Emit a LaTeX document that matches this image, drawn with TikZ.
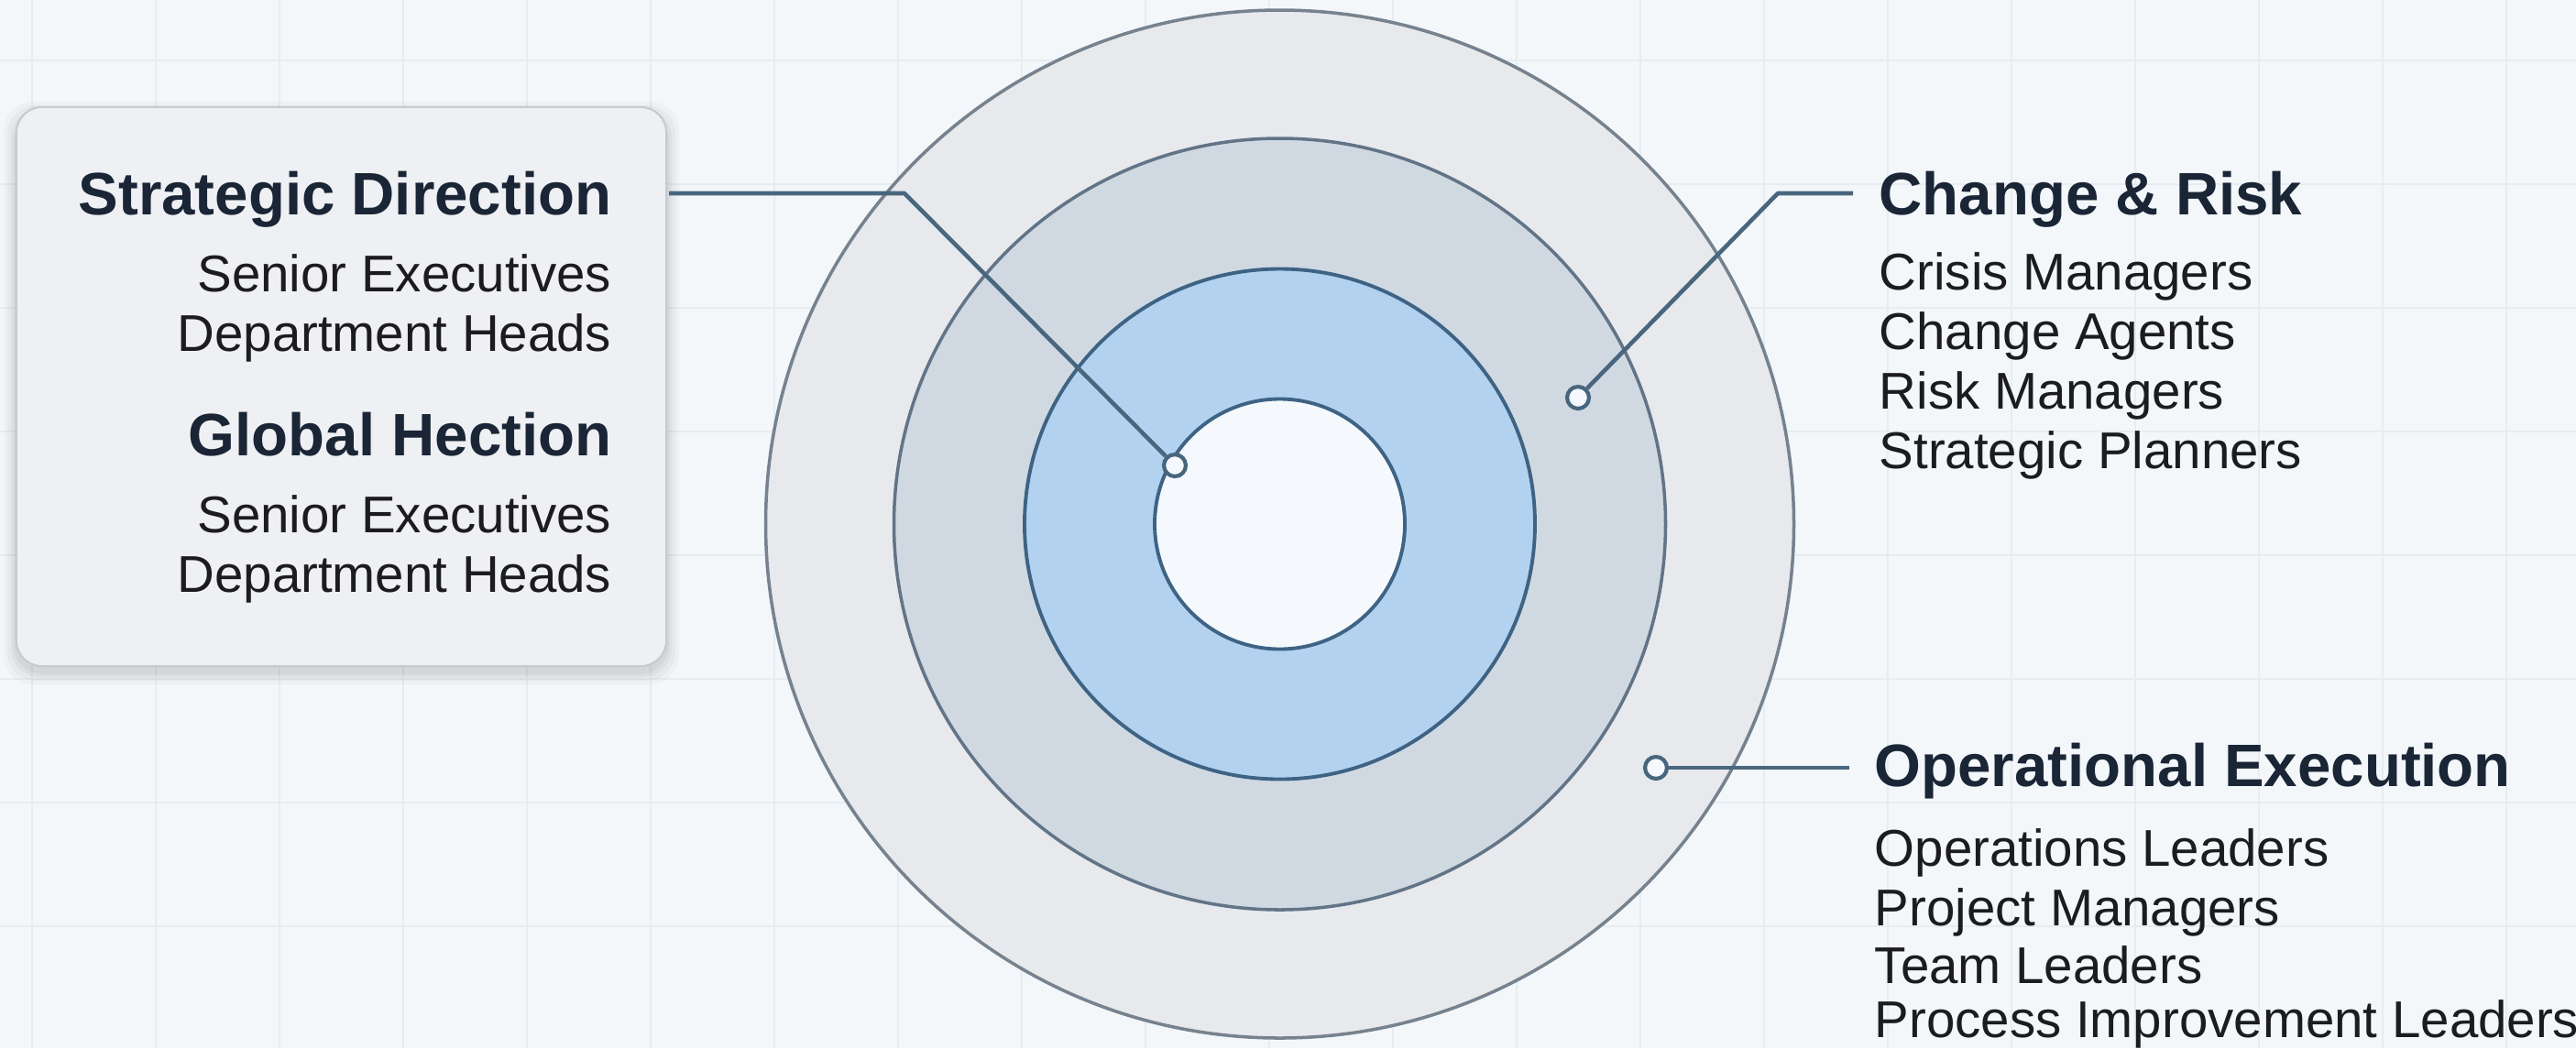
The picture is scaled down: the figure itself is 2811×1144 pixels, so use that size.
\documentclass[tikz,border=0pt]{standalone}
\usepackage{fontspec}
\setmainfont{Liberation Sans}
\definecolor{bgc}{HTML}{F3F7FA}
\definecolor{gridc}{HTML}{E7ECF1}
\definecolor{ringA}{HTML}{E7E9EC}
\definecolor{ringB}{HTML}{D0D9E1}
\definecolor{ringC}{HTML}{B3D2EF}
\definecolor{ringD}{HTML}{F5F9FD}
\definecolor{strokeA}{HTML}{76828E}
\definecolor{strokeB}{HTML}{627487}
\definecolor{strokeC}{HTML}{3E6384}
\definecolor{connc}{HTML}{48667E}
\definecolor{boxfill}{HTML}{EEF0F3}
\definecolor{boxdraw}{HTML}{C6CBD1}
\definecolor{titlec}{HTML}{1A2536}
\definecolor{textc}{HTML}{1C1C1E}
\begin{document}
\begin{tikzpicture}[x=0.01cm,y=-0.01cm,
  gridline/.style={draw=gridc,line width=0.4pt},
  ring/.style={line width=1.0pt},
  conn/.style={draw=connc,line width=1.3pt,line join=round},
  dotnode/.style={circle,draw=connc,line width=1.2pt,fill=ringD,minimum size=6.8pt,inner sep=0pt},
  panel/.style={rectangle,rounded corners=8pt,draw=boxdraw,line width=0.6pt,fill=boxfill,minimum width=7.09cm,minimum height=6.10cm,inner sep=0pt},
  ttl/.style={inner sep=0pt,text=titlec,font=\fontsize{18.6}{22}\selectfont\bfseries},
  itm/.style={inner sep=0pt,text=textc,font=\fontsize{16.05}{19}\selectfont}
]
\useasboundingbox (0,0) rectangle (2811,1144);
\fill[bgc] (0,0) rectangle (2811,1144);
% faint grid
\foreach \gx in {35,170,305,440,575,710,845,980,1115,1250,1385,1520,1655,1790,1925,2060,2195,2330,2465,2600,2735}
  \draw[gridline] (\gx,0) -- (\gx,1144);
\foreach \gy in {66,201,336,471,606,741,876,1011}
  \draw[gridline] (0,\gy) -- (2811,\gy);

% concentric rings
\coordinate (C) at (1396.5,572);
\path[ring,fill=ringA,draw=strokeA] (C) circle[radius=561];
\path[ring,fill=ringB,draw=strokeB] (C) circle[radius=421];
\path[ring,fill=ringC,draw=strokeC,line width=1.1pt] (C) circle[radius=278.5];
\path[ring,fill=ringD,draw=strokeC,line width=1.1pt] (C) circle[radius=136.5];

% left panel with soft shadow
\foreach \k/\op in {14/0.025,10/0.03,6/0.035,3/0.04}
  \fill[black,opacity=\op,rounded corners=9pt] (18-\k,117-\k+8) rectangle (727+\k,727+\k+6);
\node[panel] (box) at (372.5,422) {};

% left texts
\node[ttl,anchor=base east] (sdT) at (668,234) {Strategic Direction};
\node[itm,anchor=base east] (sd1) at (668,318) {Senior Executives};
\node[itm,anchor=base east] (sd2) at (668,383) {Department Heads};
\node[ttl,anchor=base east] (ghT) at (668,497) {Global Hection};
\node[itm,anchor=base east] (gh1) at (668,581) {Senior Executives};
\node[itm,anchor=base east] (gh2) at (668,646) {Department Heads};

% right texts
\node[ttl,anchor=base west] (crT) at (2050,234) {Change \& Risk};
\node[itm,anchor=base west] (cr1) at (2050,316) {Crisis Managers};
\node[itm,anchor=base west] (cr2) at (2050,381) {Change Agents};
\node[itm,anchor=base west] (cr3) at (2050,446) {Risk Managers};
\node[itm,anchor=base west] (cr4) at (2050,511) {Strategic Planners};

\node[ttl,anchor=base west] (oeT) at (2045,858) {Operational Execution};
\node[itm,anchor=base west] (oe1) at (2045,945) {Operations Leaders};
\node[itm,anchor=base west] (oe2) at (2045,1010) {Project Managers};
\node[itm,anchor=base west] (oe3) at (2045,1073) {Team Leaders};
\node[itm,anchor=base west] (oe4) at (2045,1132) {Process Improvement Leaders};

% connectors
\node[dotnode] (dSD) at (1282,508) {};
\node[dotnode] (dCR) at (1722,434) {};
\node[dotnode] (dOE) at (1807,838) {};
\coordinate (eSD) at (730,211);
\coordinate (bSD) at (987,211);
\coordinate (bCR) at (1940,211);
\coordinate (eCR) at (2022,211);
\coordinate (eOE) at (2018,838);
\draw[conn] (eSD) -- (bSD) -- (dSD);
\draw[conn] (dCR) -- (bCR) -- (eCR);
\draw[conn] (dOE) -- (eOE);
\end{tikzpicture}
\end{document}
